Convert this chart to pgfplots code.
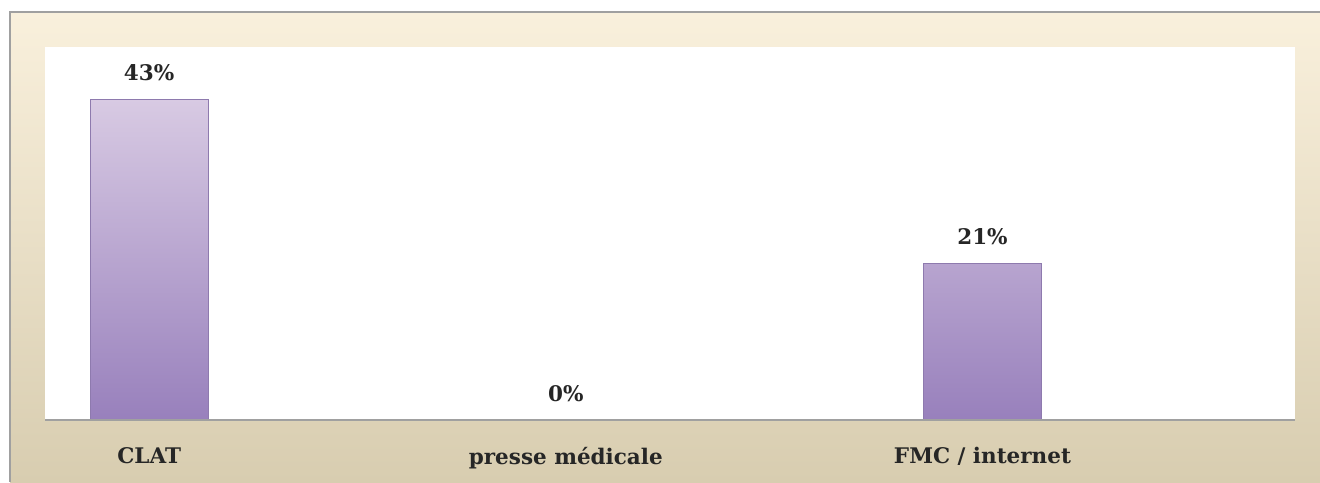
\documentclass[border=0pt]{standalone}
\usepackage{pgfplots}
\pgfplotsset{compat=1.18}
\usepackage{fontspec}
\setmainfont{DejaVu Serif}
\definecolor{bgtop}{HTML}{F9F0DC}
\definecolor{bgbot}{HTML}{D8CDB0}
\definecolor{bartop}{HTML}{D8CAE3}
\definecolor{barbot}{HTML}{9880BC}
\definecolor{baredge}{HTML}{8E7AAE}
\definecolor{txt}{HTML}{262626}
\definecolor{frame}{HTML}{A0A0A0}
\begin{document}
\begin{tikzpicture}[x=1pt,y=1pt]
\path[use as bounding box] (0,0) rectangle (1320,482);
\fill[white] (0,0) rectangle (1320,482);
\shade[top color=bgtop, bottom color=bgbot] (10,0) rectangle (1320,470);
\draw[frame, line width=2pt] (10,0) -- (10,470) -- (1320,470);
\fill[white] (45,62) rectangle (1295,435);
\begin{axis}[
  at={(45pt,62pt)}, anchor=south west,
  scale only axis, width=1250pt, height=373pt,
  xmin=-0.25, xmax=2.75, ymin=0, ymax=50,
  axis x line=bottom, axis y line=none,
  axis line style={frame, line width=2pt, -},
  axis on top,
  xtick={0,1,2},
  xticklabels={CLAT, presse médicale, FMC / internet},
  major tick length=0pt,
  ytick=\empty,
  /pgf/number format/assume math mode=true,
  xticklabel style={font=\fontsize{21.5}{24}\selectfont\bfseries, text=txt, yshift=-24pt},
  clip=false,
]
\addplot[ybar, bar width=118pt, draw=baredge, line width=0.6pt,
  top color=bartop, bottom color=barbot,
  nodes near coords={\pgfmathprintnumber{\pgfplotspointmeta}\%},
  every node near coord/.append style={font=\fontsize{21.5}{24}\selectfont\bfseries, text=txt, yshift=15pt},
] coordinates {(0,43) (1,0) (2,21)};
\end{axis}
\end{tikzpicture}
\end{document}
